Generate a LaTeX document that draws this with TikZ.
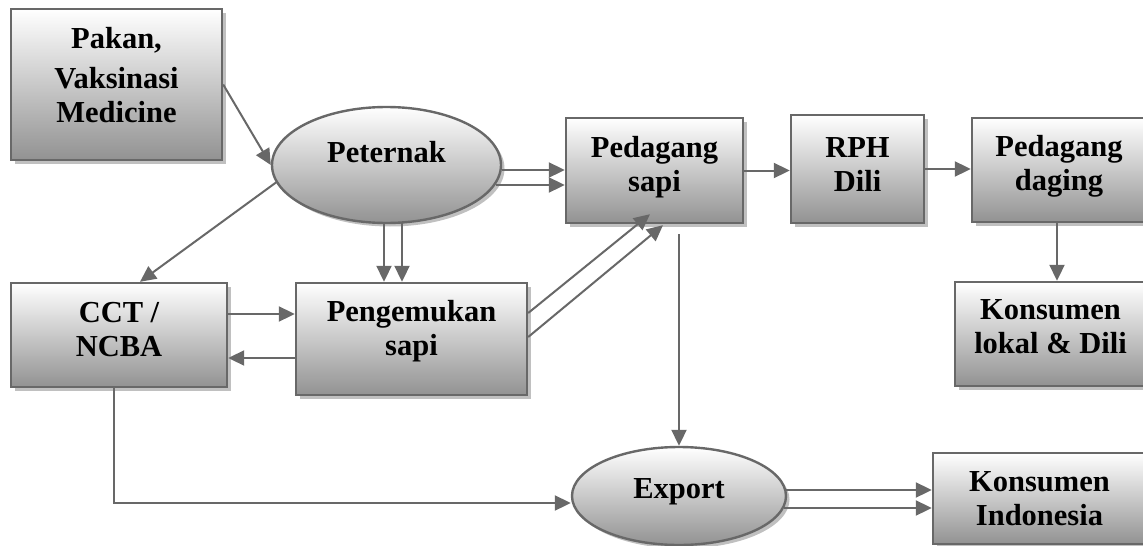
\documentclass[tikz,border=0pt]{standalone}
\usepackage{fontspec}
\setmainfont{Liberation Serif}
\usetikzlibrary{arrows.meta,shadows,shapes.geometric}
\definecolor{edgegray}{RGB}{104,104,104}
\definecolor{shadegray}{RGB}{192,192,192}
\definecolor{botgray}{RGB}{146,146,146}
\begin{document}
\begin{tikzpicture}[x=1pt,y=-1pt,
  boxbase/.style={draw=edgegray, line width=2.4pt, top color=white, bottom color=botgray,
    inner sep=0pt, drop shadow={shadow xshift=3.5pt,shadow yshift=-3.5pt,fill=shadegray,opacity=1}},
  box/.style={boxbase, rectangle},
  oval/.style={boxbase, ellipse},
  txt/.style={font=\bfseries\fontsize{30.5}{34}\selectfont, align=center, inner sep=0pt, text=black},
  arr/.style={draw=edgegray, line width=2pt, -{Triangle[length=16pt,width=15pt]}}]
\useasboundingbox (0,0) rectangle (1143,546);
\fill[white] (0,0) rectangle (1143,546);
\clip (0,0) rectangle (1143,546);

% nodes
\node[box, minimum width=211pt, minimum height=151pt,
  label={[txt,name=pakant,yshift=9.5pt]center:{Pakan,\\[6pt]Vaksinasi\\Medicine}}] (pakan) at (116.5,84.5) {};
\node[oval, minimum width=229pt, minimum height=116pt,
  label={[txt,name=peternakt,yshift=13pt]center:{Peternak}}] (peternak) at (386.5,165) {};
\node[box, minimum width=177pt, minimum height=105pt,
  label={[txt,name=pedt,yshift=3pt]center:{Pedagang\\sapi}}] (ped) at (654.5,170.5) {};
\node[box, minimum width=133pt, minimum height=108pt,
  label={[txt,name=rpht,yshift=4pt]center:{RPH\\Dili}}] (rph) at (857.5,169) {};
\node[box, minimum width=174pt, minimum height=104pt,
  label={[txt,name=pdagingt,yshift=4pt]center:{Pedagang\\daging}}] (pdaging) at (1059,170) {};
\node[box, minimum width=191pt, minimum height=104pt,
  label={[txt,name=klokalt,yshift=7.5pt]center:{Konsumen\\lokal \& Dili}}] (klokal) at (1050.5,334) {};
\node[box, minimum width=216pt, minimum height=104pt,
  label={[txt,name=cctt,yshift=5.5pt]center:{CCT /\\NCBA}}] (cct) at (119,335) {};
\node[box, minimum width=231pt, minimum height=112pt,
  label={[txt,name=pengt,yshift=7.5pt]center:{Pengemukan\\sapi}}] (peng) at (411.5,339) {};
\node[oval, minimum width=214pt, minimum height=98pt,
  label={[txt,name=exportt,yshift=4pt]center:{Export}}] (export) at (679,496) {};
\node[box, minimum width=213pt, minimum height=91pt,
  label={[txt,name=kindot,yshift=0pt]center:{Konsumen\\Indonesia}}] (kindo) at (1039.5,498.5) {};

% connectors
\draw[arr] (pakan.east) -- (peternak.west);
\draw[arr] (peternak.189) -- ([xshift=21pt]cct.north);
\draw[arr] ([yshift=-5pt]peternak.east) -- ([yshift=0.5pt]ped.west);
\draw[arr] ([xshift=-6pt,yshift=-20pt]peternak.east) -- ([yshift=-14.5pt]ped.west);
\draw[arr] ([xshift=-2.5pt]peternak.south) -- ([xshift=-27.5pt]peng.north);
\draw[arr] ([xshift=15.5pt,yshift=1pt]peternak.south) -- ([xshift=-9.5pt]peng.north);
\draw[arr] ([yshift=21pt]cct.east) -- ([yshift=25pt]peng.west);
\draw[arr] ([yshift=-19pt]peng.west) -- ([yshift=-23pt]cct.east);
\draw[arr] ([yshift=26pt]peng.east) -- ([xshift=-4.5pt,yshift=10pt]ped.south);
\draw[arr] ([yshift=2pt]peng.east) -- ([xshift=8.5pt,yshift=-1pt]ped.south);
\draw[arr] ([xshift=24.5pt,yshift=-10pt]ped.south) -- (export.north);
\draw[arr] (ped.east) -- (ped.east -| rph.west);
\draw[arr] (rph.east) -- (rph.east -| pdaging.west);
\draw[arr] ([xshift=-2pt]pdaging.south) -- ([xshift=6.5pt]klokal.north);
\draw[arr] ([xshift=-5pt]cct.south) |- ([yshift=-7pt]export.west);
\draw[arr] ([xshift=-1pt,yshift=6pt]export.east) -- ([yshift=8.5pt]kindo.west);
\draw[arr] ([xshift=-3pt,yshift=-12pt]export.east) -- ([yshift=-9.5pt]kindo.west);
\end{tikzpicture}
\end{document}
